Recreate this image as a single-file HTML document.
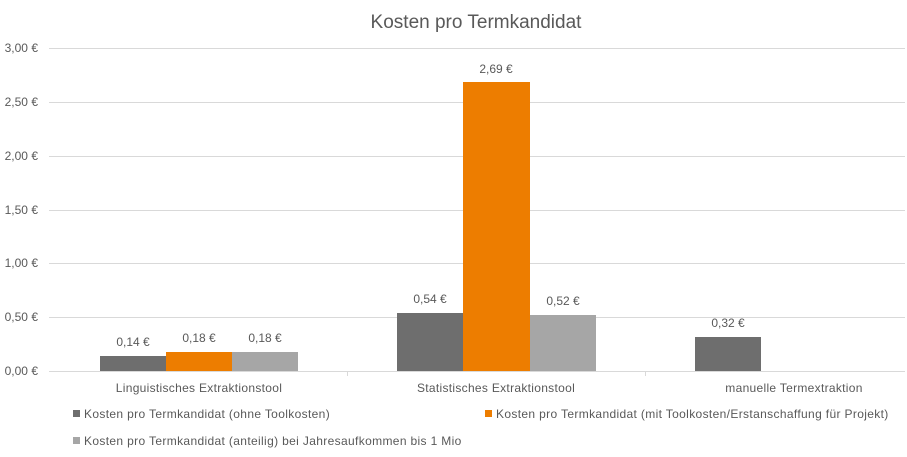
<!DOCTYPE html>
<html><head><meta charset="utf-8"><style>
body{margin:0;background:#fff;}
svg text{font-family:"Liberation Sans",sans-serif;fill:#595959;}
</style></head><body>
<svg width="907" height="452" xmlns="http://www.w3.org/2000/svg">
<text x="476" y="28" font-size="19" text-anchor="middle">Kosten pro Termkandidat</text>
<g stroke="#d9d9d9" stroke-width="1">
<line x1="49" x2="905" y1="48.5" y2="48.5"/>
<line x1="49" x2="905" y1="102.5" y2="102.5"/>
<line x1="49" x2="905" y1="156.5" y2="156.5"/>
<line x1="49" x2="905" y1="210.5" y2="210.5"/>
<line x1="49" x2="905" y1="263.5" y2="263.5"/>
<line x1="49" x2="905" y1="317.5" y2="317.5"/>
<line x1="49" x2="905" y1="371.5" y2="371.5"/>
<line x1="347.5" x2="347.5" y1="371" y2="376"/>
<line x1="645.5" x2="645.5" y1="371" y2="376"/>
</g>
<g font-size="12" text-anchor="end">
<text x="38" y="52">3,00 €</text>
<text x="38" y="106">2,50 €</text>
<text x="38" y="160">2,00 €</text>
<text x="38" y="214">1,50 €</text>
<text x="38" y="267">1,00 €</text>
<text x="38" y="321">0,50 €</text>
<text x="38" y="375">0,00 €</text>
</g>
<rect x="100" y="356" width="66" height="15" fill="#6e6e6e"/>
<rect x="166" y="352" width="66" height="19" fill="#ed7d00"/>
<rect x="232" y="352" width="66" height="19" fill="#a6a6a6"/>
<rect x="397" y="313" width="66" height="58" fill="#6e6e6e"/>
<rect x="463" y="82" width="67" height="289" fill="#ed7d00"/>
<rect x="530" y="315" width="66" height="56" fill="#a6a6a6"/>
<rect x="695" y="337" width="66" height="34" fill="#6e6e6e"/>
<g font-size="12" text-anchor="middle">
<text x="133" y="346">0,14 €</text>
<text x="199" y="342">0,18 €</text>
<text x="265" y="342">0,18 €</text>
<text x="430" y="303">0,54 €</text>
<text x="496" y="73">2,69 €</text>
<text x="563" y="305">0,52 €</text>
<text x="728" y="327">0,32 €</text>
<text x="199" y="392" letter-spacing="0.3">Linguistisches Extraktionstool</text>
<text x="496" y="392" letter-spacing="0.3">Statistisches Extraktionstool</text>
<text x="794" y="392" letter-spacing="0.3">manuelle Termextraktion</text>
</g>
<g font-size="12" letter-spacing="0.35">
<rect x="73" y="410" width="7" height="7" fill="#6e6e6e"/>
<text x="84" y="418">Kosten pro Termkandidat (ohne Toolkosten)</text>
<rect x="485" y="410" width="7" height="7" fill="#ed7d00"/>
<text x="496" y="418">Kosten pro Termkandidat (mit Toolkosten/Erstanschaffung für Projekt)</text>
<rect x="73" y="437" width="7" height="7" fill="#a6a6a6"/>
<text x="84" y="445">Kosten pro Termkandidat (anteilig) bei Jahresaufkommen bis 1 Mio</text>
</g>
</svg>
</body></html>
